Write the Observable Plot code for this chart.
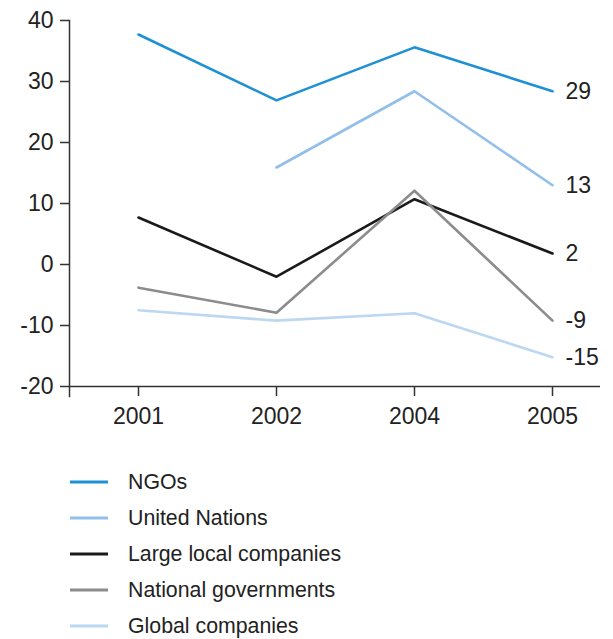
<!DOCTYPE html>
<html>
<head>
<meta charset="utf-8">
<script src="https://cdn.jsdelivr.net/npm/d3@7"></script>
<script src="https://cdn.jsdelivr.net/npm/@observablehq/plot@0.6"></script>
<style>
  body { margin: 0; background: #fff; font-family: "Liberation Sans", Arial, Helvetica, sans-serif; color: #222; }
  #legend { padding-top: 24px; }
  .row { display: flex; align-items: center; height: 36px; font-size: 21.3px; }
  .row svg { margin-left: 70px; margin-right: 20px; }
</style>
</head>
<body>
<div id="chart"></div>
<div id="legend"></div>
<script>
const years = ["2001", "2002", "2004", "2005"];
const seriesNames = ["NGOs", "United Nations", "Large local companies", "National governments", "Global companies"];
const ngos = [37.7, 26.9, 35.6, 28.4];
const unitedNations = [null, 15.9, 28.4, 13.0];
const largeLocal = [7.7, -2.0, 10.7, 1.8];
const nationalGov = [-3.8, -7.9, 12.1, -9.2];
const globalCo = [-7.5, -9.2, -8.0, -15.2];
const endLabels = ["29", "13", "2", "-9", "-15"];
const colors = ["#1e90d4", "#92bfe9", "#1a1a1a", "#8c8c8c", "#bcd7f1"];
const yTicks = [-20, -10, 0, 10, 20, 30, 40];

const allValues = [ngos, unitedNations, largeLocal, nationalGov, globalCo];
const data = [];
seriesNames.forEach((s, i) => {
  years.forEach((y, j) => {
    data.push({series: s, year: y, value: allValues[i][j], label: endLabels[i]});
  });
});
const lastPoints = data.filter(d => d.year === years[years.length - 1]);

const chart = Plot.plot({
  width: 613,
  height: 440,
  marginLeft: 69,
  marginRight: 13,
  marginTop: 20,
  marginBottom: 54,
  style: {fontSize: "23px", fontFamily: "Liberation Sans, Arial, sans-serif", color: "#222", background: "#fff"},
  x: {type: "point", domain: years, range: [137, 553], padding: 0, label: null},
  y: {domain: [-20, 40], label: null},
  color: {domain: seriesNames, range: colors},
  marks: [
    Plot.frame({anchor: "left", insetBottom: -10, stroke: "#333", strokeWidth: 1.5}),
    Plot.ruleY([-20], {stroke: "#333", strokeWidth: 1.5}),
    Plot.axisY({ticks: yTicks, tickFormat: d => String(d), tickSize: 9, tickPadding: 7, stroke: "#333", strokeWidth: 1.5, label: null, fill: "#222", fontSize: 23}),
    Plot.axisX({tickSize: 10, tickPadding: 11, stroke: "#333", strokeWidth: 1.5, label: null, fill: "#222", fontSize: 23}),
    Plot.line(data, {x: "year", y: "value", z: "series", stroke: "series", strokeWidth: 2.6, defined: d => d.value != null}),
    Plot.text(lastPoints, {x: "year", y: "value", text: "label", textAnchor: "start", dx: 13, fill: "#222", fontSize: 23})
  ]
});
document.getElementById("chart").appendChild(chart);

const legend = document.getElementById("legend");
seriesNames.forEach((s, i) => {
  const row = document.createElement("div");
  row.className = "row";
  row.innerHTML = `<svg width="38" height="6"><line x1="0" x2="38" y1="3" y2="3" stroke="${colors[i]}" stroke-width="3"/></svg><span>${s}</span>`;
  legend.appendChild(row);
});
</script>
</body>
</html>
